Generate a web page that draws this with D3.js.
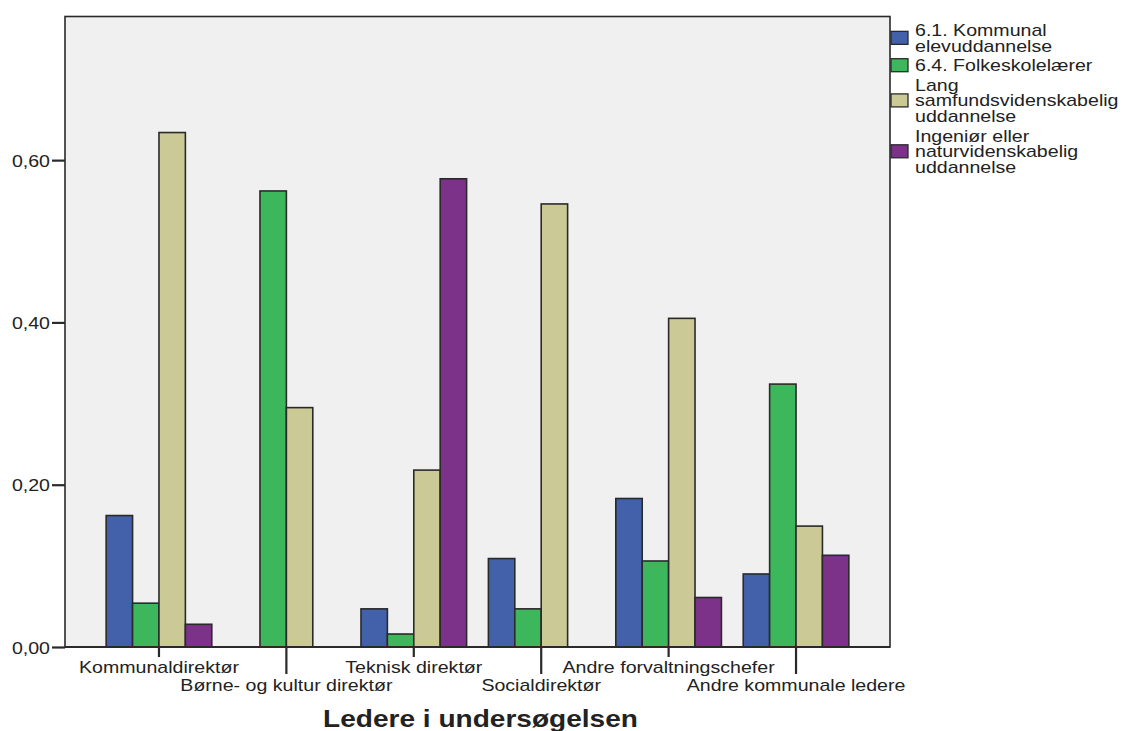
<!DOCTYPE html>
<html>
<head>
<meta charset="utf-8">
<script src="https://cdn.jsdelivr.net/npm/d3@7"></script>
<style>
  html, body { margin: 0; padding: 0; background: #ffffff; }
  svg { display: block; font-family: "Liberation Sans", Arial, sans-serif; }
</style>
</head>
<body>
<svg id="chart" width="1132" height="731"></svg>
<script>
// ---- data ----
const categories = ["Kommunaldirektør", "Børne- og kultur direktør", "Teknisk direktør", "Socialdirektør", "Andre forvaltningschefer", "Andre kommunale ledere"];
const seriesNames = ["6.1. Kommunal elevuddannelse", "6.4. Folkeskolelærer", "Lang samfundsvidenskabelig uddannelse", "Ingeniør eller naturvidenskabelig uddannelse"];
const legendLines = [["6.1. Kommunal", "elevuddannelse"], ["6.4. Folkeskolelærer"], ["Lang", "samfundsvidenskabelig", "uddannelse"], ["Ingeniør eller", "naturvidenskabelig", "uddannelse"]];
const kommunalElev = [0.162, 0, 0.047, 0.109, 0.183, 0.090];
const folkeskole   = [0.054, 0.562, 0.016, 0.047, 0.106, 0.324];
const langSamf     = [0.634, 0.295, 0.218, 0.546, 0.405, 0.149];
const ingenioer    = [0.028, 0, 0.577, 0, 0.061, 0.113];
const yTicks = [0, 0.2, 0.4, 0.6];
const colors = ["#4360AA", "#3DB75B", "#CBC996", "#7D3289"];
const xTitle = "Ledere i undersøgelsen";

const seriesValues = [kommunalElev, folkeskole, langSamf, ingenioer];

// ---- layout ----
const svg = d3.select("#chart");
const L = 65, R = 890, T = 16.5, B = 647;
const FS = 15.8;
const SX = 1.24; // horizontal text stretch
const ink = "#222222";
const frame = "#2a2a2a";

const x0 = d3.scaleBand().domain(categories).range([L, R]).paddingInner(0.171).paddingOuter(0.323);
const x1 = d3.scaleBand().domain(seriesNames).range([0, x0.bandwidth()]).padding(0);
const y = d3.scaleLinear().domain([0, 0.777]).range([B, T]);

// plot background
svg.append("rect").attr("x", L).attr("y", T).attr("width", R - L).attr("height", B - T)
  .attr("fill", "#EFF0EF");

// bars
const data = [];
categories.forEach((c, i) => {
  seriesNames.forEach((s, j) => {
    const v = seriesValues[j][i];
    if (v > 0) data.push({ c, s, v, j });
  });
});
svg.append("g").selectAll("rect").data(data).join("rect")
  .attr("x", d => x0(d.c) + x1(d.s))
  .attr("y", d => y(d.v))
  .attr("width", x1.bandwidth())
  .attr("height", d => B - y(d.v))
  .attr("fill", d => colors[d.j])
  .attr("stroke", frame)
  .attr("stroke-width", 1.6);

// frame
svg.append("rect").attr("x", L).attr("y", T).attr("width", R - L).attr("height", B - T)
  .attr("fill", "none").attr("stroke", frame).attr("stroke-width", 1.6);
svg.append("line").attr("x1", L).attr("x2", R).attr("y1", B).attr("y2", B)
  .attr("stroke", frame).attr("stroke-width", 2.2);

// y axis
const fmt = v => d3.format(".2f")(v).replace(".", ",");
const yAxis = d3.axisLeft(y).tickValues(yTicks).tickSize(13).tickFormat(fmt);
const gy = svg.append("g").attr("transform", `translate(${L},0)`).call(yAxis);
gy.select(".domain").remove();
gy.selectAll(".tick line").attr("stroke", frame).attr("stroke-width", 2.2);
gy.selectAll(".tick text").remove();
gy.selectAll(".tick").append("text")
  .attr("transform", `translate(-15,6) scale(${SX},1)`)
  .attr("text-anchor", "end")
  .attr("fill", ink).attr("font-size", FS)
  .text(d => fmt(d));

// x axis (staggered labels)
const xAxis = d3.axisBottom(x0).tickSize(0).tickFormat("");
const gx = svg.append("g").attr("transform", `translate(0,${B})`).call(xAxis);
gx.select(".domain").remove();
gx.selectAll(".tick line").remove();
gx.selectAll(".tick").each(function (d, i) {
  const g = d3.select(this);
  const long = i % 2 === 1;
  g.append("line").attr("x1", 0).attr("x2", 0).attr("y1", 0).attr("y2", long ? 27 : 10)
    .attr("stroke", frame).attr("stroke-width", 2.2);
  g.append("text")
    .attr("transform", `translate(0,${long ? 44 : 25.5}) scale(${SX},1)`)
    .attr("text-anchor", "middle")
    .attr("fill", ink).attr("font-size", FS)
    .text(d);
});

// x title
svg.append("text")
  .attr("transform", `translate(${(L + R) / 2 + 3},727) scale(1.22,1)`)
  .attr("text-anchor", "middle")
  .attr("font-weight", "bold").attr("font-size", 23).attr("fill", ink)
  .text(xTitle);

// legend
const lh = 15.7, gap = 19.5, cap = 11;
let base = 36;
const leg = svg.append("g");
legendLines.forEach((lines, j) => {
  const first = base;
  const last = base + (lines.length - 1) * lh;
  const center = (first - cap + last) / 2 - 0.5;
  leg.append("rect").attr("x", 891).attr("y", center - 6.5).attr("width", 17).attr("height", 13)
    .attr("fill", colors[j]).attr("stroke", frame).attr("stroke-width", 1.3);
  lines.forEach((t, k) => {
    leg.append("text")
      .attr("transform", `translate(915,${first + k * lh}) scale(${SX},1)`)
      .attr("fill", ink).attr("font-size", FS)
      .text(t);
  });
  base = last + gap;
});
</script>
</body>
</html>
